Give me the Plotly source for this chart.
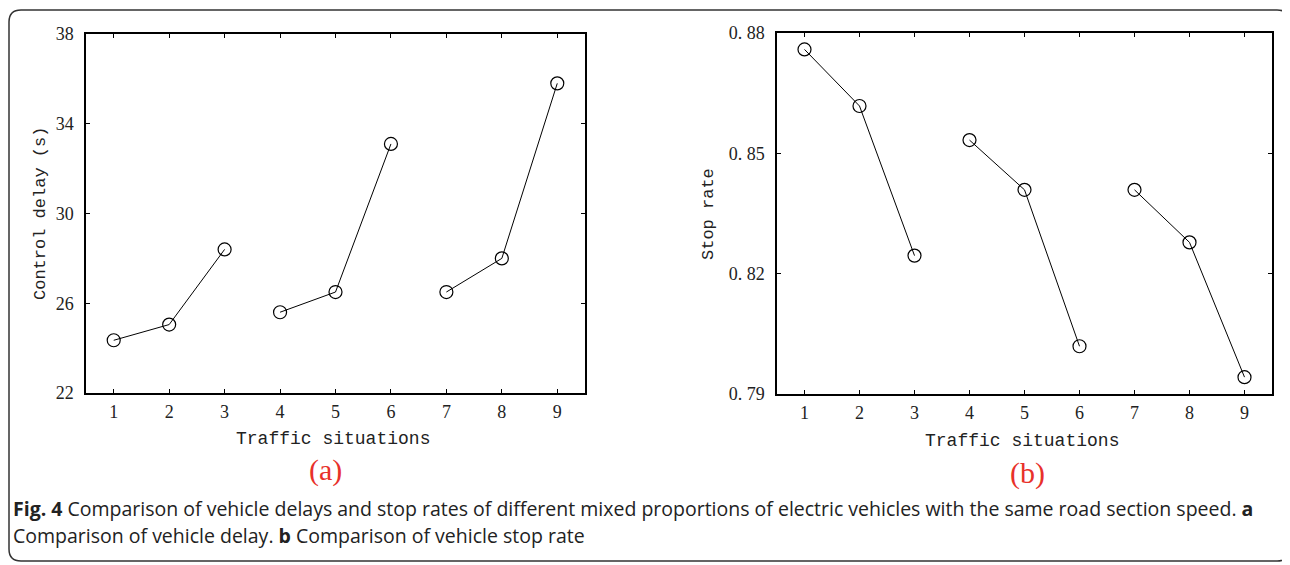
import plotly.graph_objects as go

# ---- data ----
situations = [1, 2, 3, 4, 5, 6, 7, 8, 9]
control_delay = [24.35, 25.05, 28.4, 25.6, 26.5, 33.1, 26.5, 28.0, 35.8]
stop_rate = [0.8759, 0.8618, 0.8245, 0.8533, 0.8409, 0.8019, 0.8409, 0.8278, 0.7942]
groups = [(0, 3), (3, 6), (6, 9)]

delay_ticks = [22, 26, 30, 34, 38]
delay_ticktext = ["22", "26", "30", "34", "38"]
rate_ticks = [0.79, 0.82, 0.85, 0.88]
rate_ticktext = ["0. 79", "0. 82", "0. 85", "0. 88"]

# page body has an 8px margin; compensate so that px/py take reference pixel coords
OFF = 8
W, H = 1282, 557

def px(x):
    return (x - OFF) / W

def py(y):
    return 1 - (y - OFF) / H

fig = go.Figure()

for (a, b) in groups:
    fig.add_trace(go.Scatter(
        x=situations[a:b], y=control_delay[a:b], mode="lines+markers",
        line=dict(color="black", width=1),
        marker=dict(symbol="circle-open", size=13, color="black", line=dict(width=1.2)),
        xaxis="x", yaxis="y", showlegend=False, hoverinfo="x+y"))
    fig.add_trace(go.Scatter(
        x=situations[a:b], y=stop_rate[a:b], mode="lines+markers",
        line=dict(color="black", width=1),
        marker=dict(symbol="circle-open", size=13, color="black", line=dict(width=1.2)),
        xaxis="x2", yaxis="y2", showlegend=False, hoverinfo="x+y"))

tickfont = dict(family="Liberation Serif", size=18, color="#222")
common_x = dict(range=[0.5, 9.5], tickvals=situations, ticks="inside", ticklen=4,
                tickcolor="black", showline=True, linecolor="black", linewidth=1.5,
                mirror="allticks", showgrid=False, zeroline=False, tickfont=tickfont,
                automargin=False, ticklabelstandoff=2)
common_y = dict(ticks="inside", ticklen=4, tickcolor="black", showline=True,
                linecolor="black", linewidth=1.5, mirror="allticks", showgrid=False,
                zeroline=False, tickfont=tickfont, automargin=False, ticklabelstandoff=7)

fig.update_layout(
    width=W, height=H,
    margin=dict(l=0, r=0, t=0, b=0),
    paper_bgcolor="white", plot_bgcolor="white",
    xaxis=dict(domain=[px(86), px(585)], anchor="y", **common_x),
    yaxis=dict(domain=[py(393), py(34)], anchor="x", range=[22, 38],
               tickvals=delay_ticks, ticktext=delay_ticktext, **common_y),
    xaxis2=dict(domain=[px(777), px(1272)], anchor="y2", **common_x),
    yaxis2=dict(domain=[py(394), py(33)], anchor="x2", range=[0.79, 0.88],
                tickvals=rate_ticks, ticktext=rate_ticktext, **common_y),
)

title_font = dict(family="Liberation Mono", size=18, color="#222")
cap_font = dict(family="Open Sans", size=19.5, color="#222")
ann = [
    dict(text="Traffic situations", x=px(333), y=py(439), font=title_font),
    dict(text="Traffic situations", x=px(1022), y=py(441), font=title_font),
    dict(text="Control delay (s)", x=px(40), y=py(214), font=dict(title_font, size=17), textangle=-90),
    dict(text="Stop rate", x=px(708), y=py(214), font=dict(title_font, size=17), textangle=-90),
    dict(text="(a)", x=px(325), y=py(470), font=dict(family="Liberation Serif", size=30, color="#e8312a")),
    dict(text="(b)", x=px(1027), y=py(473), font=dict(family="Liberation Serif", size=30, color="#e8312a")),
    dict(text="<b>Fig. 4</b> Comparison of vehicle delays and stop rates of different mixed proportions of electric vehicles with the same road section speed. <b>a</b>",
         x=px(11), y=py(508), xanchor="left", font=cap_font),
    dict(text="Comparison of vehicle delay. <b>b</b> Comparison of vehicle stop rate",
         x=px(11), y=py(535), xanchor="left", font=cap_font),
]
for a in ann:
    a.setdefault("xanchor", "center")
    fig.add_annotation(xref="paper", yref="paper", yanchor="middle", showarrow=False, **a)

# rounded outer frame
r = 12
x0, y0, x1, y1 = 9, 10, 1289, 561
path = (f"M {px(x0)},{py(y0 + r)} "
        f"Q {px(x0)},{py(y0)} {px(x0 + r)},{py(y0)} "
        f"L {px(x1 - r)},{py(y0)} "
        f"Q {px(x1)},{py(y0)} {px(x1)},{py(y0 + r)} "
        f"L {px(x1)},{py(y1 - r)} "
        f"Q {px(x1)},{py(y1)} {px(x1 - r)},{py(y1)} "
        f"L {px(x0 + r)},{py(y1)} "
        f"Q {px(x0)},{py(y1)} {px(x0)},{py(y1 - r)} Z")
fig.add_shape(type="path", path=path, xref="paper", yref="paper",
              line=dict(color="#333", width=1.5), layer="below")

fig.write_html("out.html")
